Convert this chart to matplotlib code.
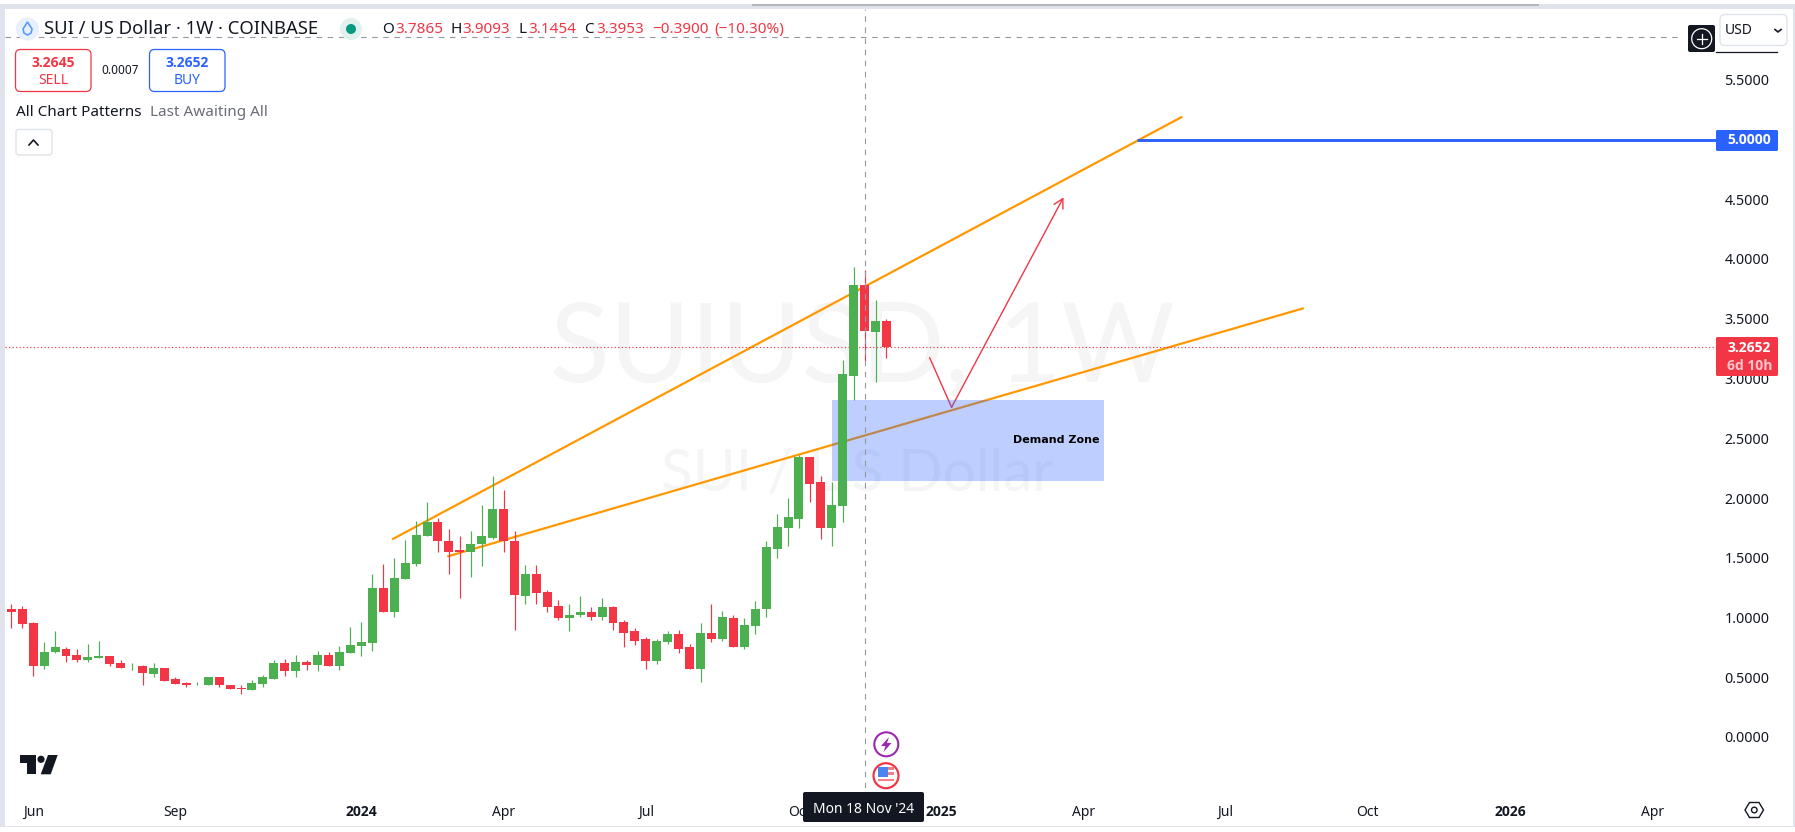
import matplotlib
matplotlib.use('Agg')
import matplotlib.pyplot as plt
from matplotlib.patches import FancyBboxPatch, Circle, Polygon, Rectangle

plt.rcParams['font.family'] = ['Noto Sans', 'DejaVu Sans']

# weekly candles
opens = [1.075, 1.067, .958, .598, .715, .740, .690, .648, .665, .682, .623, .590, .598, .531, .581, .489, .456,
         .431, .431, .506, .439, .414, .397, .447, .489, .623, .556, .631, .606, .690, .598, .707, .765, .790,
         1.251, 1.050, 1.326, 1.451, 1.686, 1.803, 1.644, 1.561, 1.544, 1.611, 1.669, 1.912, 1.636, 1.184, 1.368,
         1.217, 1.100, 1.000, 1.017, 1.042, 1.008, 1.092, .966, .883, .816, .632, .799, .858, .749, .573, .874,
         .816, 1.000, .757, .933, 1.067, 1.577, 1.753, 1.828, 2.339, 2.130, 1.745, 1.937, 3.025, 3.7865, 3.385, 3.477]
highs = [1.117, 1.097, .966, .799, .891, .757, .740, .782, .807, .682, .648, .623, .606, .623, .581, .498, .464,
         .464, .506, .506, .439, .431, .481, .523, .648, .656, .690, .648, .723, .715, .765, .924, .966, 1.368,
         1.451, 1.502, 1.652, 1.811, 1.970, 1.836, 1.744, 1.678, 1.720, 1.945, 2.180, 2.071, 1.720, 1.443, 1.443,
         1.234, 1.150, 1.109, 1.176, 1.084, 1.167, 1.100, .983, .908, .833, .816, .891, .899, .782, .958, 1.117,
         1.058, 1.017, .992, 1.142, 1.636, 1.870, 2.004, 2.364, 2.347, 2.180, 2.130, 3.151, 3.937, 3.9093, 3.653, 3.494]
lows = [.916, .908, .514, .573, .707, .631, .631, .631, .665, .598, .581, .564, .439, .498, .472, .447, .422,
        .431, .431, .422, .405, .364, .397, .422, .489, .514, .498, .564, .556, .598, .564, .707, .682, .723,
        1.050, 1.008, 1.326, 1.435, 1.686, 1.552, 1.368, 1.159, 1.343, 1.427, 1.653, 1.544, .899, 1.109, 1.117,
        1.042, .975, .883, 1.008, .983, .983, .899, .757, .774, .573, .615, .782, .707, .565, .464, .799,
        .807, .749, .740, .866, 1.008, 1.502, 1.602, 1.745, 1.970, 1.653, 1.602, 1.795, 2.824, 3.1454, 2.967, 3.168]
closes = [1.050, .949, .598, .715, .749, .682, .648, .673, .682, .615, .581, .598, .539, .581, .472, .447, .431,
          .439, .506, .431, .405, .405, .456, .506, .623, .556, .631, .606, .690, .598, .715, .774, .799, 1.251,
          1.050, 1.334, 1.460, 1.694, 1.803, 1.636, 1.552, 1.552, 1.619, 1.678, 1.912, 1.636, 1.192, 1.368, 1.209,
          1.092, .992, 1.025, 1.042, 1.008, 1.092, .958, .874, .807, .632, .807, .858, .740, .573, .874, .816,
          1.000, .749, .941, 1.075, 1.586, 1.761, 1.837, 2.339, 2.121, 1.745, 1.945, 3.034, 3.785, 3.3953, 3.477, 3.2652]

# drawings, x in bar numbers, y in price
upper_x = [34.9, 106.96]
upper_y = [1.658, 5.187]
lower_x = [39.95, 118.05]
lower_y = [1.513, 3.586]
path_x = [83.95, 85.95, 96.18]
path_y = [3.173, 2.759, 4.516]
zone_x = [75.0, 99.88]
zone_y = [2.144, 2.823]
target_start = 102.9
target_price = 5.0
last_price = 3.2652
cross_bar = 78
cross_price = 5.855

price_ticks = [0, .5, 1, 1.5, 2, 2.5, 3, 3.5, 4, 4.5, 5, 5.5]
time_ticks = [2, 15, 32, 45, 58, 72, 85, 98, 111, 124, 137, 150]
time_labels = ['Jun', 'Sep', '2024', 'Apr', 'Jul', 'Oct', '2025', 'Apr', 'Jul', 'Oct', '2026', 'Apr']
bold_labels = ['2024', '2025', '2026']

GREEN = '#4caf50'
RED = '#f23645'
BLUE = '#2962ff'
ORANGE = '#ff9800'
DARK = '#131722'
EDGE = '#e0e3eb'
GRAY = '#9598a1'
BOLD_FONT = ['Open Sans', 'DejaVu Sans']

W, H = 1795, 832
fig = plt.figure(figsize=(W / 100, H / 100), dpi=100, facecolor='white')

# price pane
left, right, top, bottom = 5, 1716, 9, 788
x0, dx = 11.3, 10.94
y0, dy = 737.0, 119.5
ax = fig.add_axes([left / W, 1 - bottom / H, (right - left) / W, (bottom - top) / H])
ax.set_xlim((left - x0) / dx, (right - x0) / dx)
ax.set_ylim((y0 - bottom) / dy, (y0 - top) / dy)
for s in ax.spines.values():
    s.set_visible(False)

# watermark
ax.text(77.8, 3.23, 'SUIUSD, 1W', color='#f5f5f6', fontsize=79, family=['Lato'], ha='center', va='center', zorder=1)
ax.text(77.35, 2.2, 'SUI / US Dollar', color='#f5f5f6', fontsize=42, family=['Lato'], ha='center', va='center', zorder=1)

# trend lines under the zone, candles on top of everything
ax.plot(upper_x, upper_y, color=ORANGE, lw=1.6, zorder=2)
ax.plot(lower_x, lower_y, color=ORANGE, lw=1.6, zorder=2)
ax.plot(path_x[:2], path_y[:2], color=RED, lw=1, zorder=2.5)
ax.annotate('', xy=(path_x[2], path_y[2]), xytext=(path_x[1], path_y[1]), zorder=2.5,
            arrowprops=dict(arrowstyle='->,head_length=0.55,head_width=0.3', color=RED, lw=1,
                            shrinkA=0, shrinkB=0, mutation_scale=12))
ax.add_patch(Rectangle((zone_x[0], zone_y[0]), zone_x[1] - zone_x[0], zone_y[1] - zone_y[0],
                       facecolor=BLUE, alpha=0.3, lw=0, zorder=3))
ax.text(zone_x[1] - 0.4, 2.485, 'Demand Zone', fontsize=8, fontweight='bold', family=['DejaVu Sans'],
        color='black', ha='right', va='center', zorder=7)
ax.hlines(target_price, target_start, ax.get_xlim()[1], color=BLUE, lw=2.1, zorder=4)
ax.axhline(last_price, color=RED, lw=0.85, ls=(0, (1, 2)), zorder=4)

for i in range(len(opens)):
    c = RED if closes[i] < opens[i] else GREEN
    ax.vlines(i, lows[i], highs[i], color=c, lw=0.85, zorder=5)
    ax.bar(i, abs(closes[i] - opens[i]), bottom=min(opens[i], closes[i]), width=0.82, color=c, lw=0, zorder=5)

# crosshair
ax.axvline(cross_bar, color=GRAY, lw=0.8, ls=(0, (5, 5)), zorder=6)
ax.hlines(cross_price, ax.get_xlim()[0], 152.7, color=GRAY, lw=0.8, ls=(0, (5, 5)), zorder=6)

ax.yaxis.tick_right()
ax.set_yticks(price_ticks)
ax.set_yticklabels(['%.4f' % p for p in price_ticks], fontsize=10.3, color=DARK)
ax.set_xticks(time_ticks)
ax.set_xticklabels(time_labels, fontsize=10, color=DARK)
for t in ax.get_xticklabels():
    if t.get_text() in bold_labels:
        t.set_fontweight('bold')
        t.set_family(BOLD_FONT)
ax.tick_params(axis='both', length=0)
ax.tick_params(axis='y', pad=6)
ax.tick_params(axis='x', pad=12)

# everything around the chart in pixel coordinates
ui = fig.add_axes([0, 0, 1, 1], zorder=10)
ui.set_xlim(0, W)
ui.set_ylim(H, 0)
ui.axis('off')
ui.patch.set_alpha(0)

ui.add_patch(Rectangle((0, 4), W, 5, fc=EDGE, lw=0))
ui.add_patch(Rectangle((0, 4), 5, 823, fc=EDGE, lw=0))
ui.add_patch(Rectangle((1793, 4), 2, 823, fc=EDGE, lw=0))
ui.add_patch(Rectangle((5, 826), 1788, 1, fc=EDGE, lw=0))
ui.add_patch(Rectangle((752, 4), 787, 1.5, fc='#b4b6bd', lw=0))


def box(x, y, w, h, fc='white', ec='none', lw=1, r=5):
    ui.add_patch(FancyBboxPatch((x, y), w, h, boxstyle='round,pad=0,rounding_size=%g' % r, fc=fc, ec=ec, lw=lw))


def label(x, y, s, color=DARK, size=10, ha='left', **kw):
    ui.text(x, y, s, color=color, fontsize=size, ha=ha, va='center', **kw)


# header
ui.add_patch(Circle((27.5, 29), 11.5, fc='#e8f0fe', lw=0))
ui.add_patch(Polygon([(27.5, 22), (32, 29), (31, 33), (27.5, 35), (24, 33), (23, 29)], fc='none', ec='#5b9cf6', lw=1.2))
label(43.5, 29.5, 'SUI / US Dollar · 1W · COINBASE', size=13.3)
ui.add_patch(Circle((351, 29), 11, fc='#e3f1ee', lw=0))
ui.add_patch(Circle((351, 29), 5, fc='#089981', lw=0))
for x, s, c in [(382.6, 'O', DARK), (395.4, '3.7865', RED), (451, 'H', DARK), (462, '3.9093', RED),
                (518, 'L', DARK), (528, '3.1454', RED), (584, 'C', DARK), (596, '3.3953', RED),
                (652, '−0.3900', RED), (714, '(−10.30%)', RED)]:
    label(x, 29.5, s, color=c, size=11)

# sell / buy
box(15.5, 49.5, 75.5, 42, ec=RED, lw=0.9)
label(53, 63, '3.2645', color=RED, ha='center', fontweight='bold', family=BOLD_FONT)
label(53, 80, 'SELL', color=RED, ha='center')
label(120, 70, '0.0007', size=8.5, ha='center')
box(149.5, 49.5, 75.5, 42, ec=BLUE, lw=0.9)
label(187, 63, '3.2652', color=BLUE, ha='center', fontweight='bold', family=BOLD_FONT)
label(187, 80, 'BUY', color=BLUE, ha='center')
label(16, 112, 'All Chart Patterns', size=11)
label(150.5, 112, 'Last Awaiting All', color='#6a6d78', size=11)
box(16, 129.5, 36, 25.5, ec=EDGE, r=3)
ui.plot([29, 33.5, 38], [145, 140, 145], color=DARK, lw=1.2)

# price scale extras
box(1720, 14.5, 67, 31, ec=EDGE, r=5)
label(1725, 30.5, 'USD', size=10)
ui.plot([1775, 1778, 1781], [29.5, 32, 29.5], color=DARK, lw=1.2)
box(1688, 25, 27, 27, fc=DARK, r=2)
ui.add_patch(Circle((1701.7, 38.7), 10, fc='none', ec='white', lw=0.9))
ui.plot([1696.7, 1706.7], [38.7, 38.7], color='white', lw=0.9)
ui.plot([1701.7, 1701.7], [33.7, 43.7], color='white', lw=0.9)
ui.plot([1716, 1777], [51.5, 51.5], color=DARK, lw=0.9)
box(1716, 130, 62, 21, fc=BLUE, r=1.5)
label(1727, 140.5, '5.0000', color='white', fontweight='bold', family=BOLD_FONT)
box(1716, 337, 62, 39, fc=RED, r=1.5)
label(1727, 347.5, '3.2652', color='white', fontweight='bold', family=BOLD_FONT)
label(1727, 366, '6d 10h', color='#fbc6cb', fontweight='bold', family=BOLD_FONT)

# time scale extras
box(803, 792, 121, 30, fc=DARK, r=2)
label(863.5, 809.5, "Mon 18 Nov '24", color='white', ha='center')

# event icons
ui.add_patch(Circle((886.3, 744.3), 12, fc='white', ec='#9c27b0', lw=1.5))
ui.add_patch(Polygon([(889, 737), (881, 746), (885.5, 746), (883.5, 752), (891.5, 743), (887, 743)], fc='#9c27b0', lw=0))
ui.add_patch(Circle((886, 775.7), 12.5, fc='white', ec=RED, lw=1.6))
for yy in [768.5, 773.5, 780]:
    ui.add_patch(Rectangle((878, yy - 1.3), 16, 2.6, fc='#f77f88', lw=0))
ui.add_patch(Rectangle((877.5, 766.5), 10, 10, fc='#4b84ee', lw=0))

# logo and settings
ui.add_patch(Polygon([(20, 755), (36, 755), (36, 774.3), (26.7, 774.3), (26.7, 763.3), (20, 763.3)], fc=DARK, lw=0))
ui.add_patch(Circle((41, 759.3), 3.6, fc=DARK, lw=0))
ui.add_patch(Polygon([(48, 755), (57.7, 755), (50.7, 774.3), (40.7, 774.3)], fc=DARK, lw=0))
ui.add_patch(Polygon([(1745, 810), (1749.5, 802.5), (1759, 802.5), (1763.5, 810), (1759, 817.5), (1749.5, 817.5)],
                     fc='none', ec=DARK, lw=1))
ui.add_patch(Circle((1754.3, 810), 2.8, fc='none', ec=DARK, lw=1))

fig.savefig('out.png', dpi=100)
